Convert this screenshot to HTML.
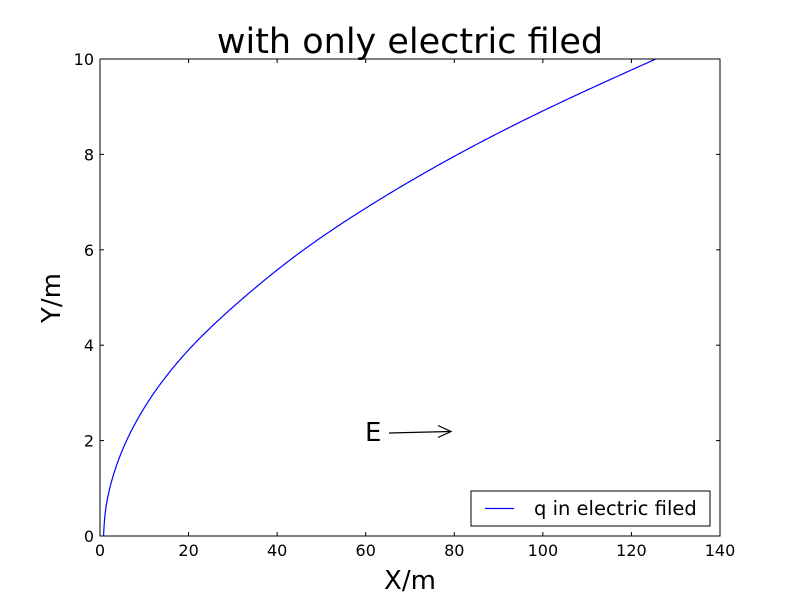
<!DOCTYPE html>
<html><head><meta charset="utf-8"><style>
body{margin:0;background:#fff}
svg{display:block;font-family:"DejaVu Sans","Liberation Sans",sans-serif}
</style></head><body>
<svg id="chart" width="800" height="596" viewBox="0 0 800 596">
<rect x="0" y="0" width="800" height="596" fill="#fff"/>
<text x="410" y="53" font-size="35" text-anchor="middle">with only electric filed</text>
<g id="ticks"></g>
<path id="curve" fill="none" stroke="#0000ff" stroke-width="1.2"/>
<rect x="100" y="59" width="620" height="477" fill="none" stroke="#000" stroke-width="1"/>
<text x="410" y="589" font-size="26" text-anchor="middle">X/m</text>
<text x="60" y="298" font-size="26" text-anchor="middle" transform="rotate(-90 60 298)">Y/m</text>
<text x="365" y="441" font-size="26">E</text>
<g>
<line x1="389" y1="433" x2="450" y2="431.5" stroke="#000" stroke-width="1.2"/>
<polyline points="438,425.5 451,431.5 438,437.5" fill="none" stroke="#000" stroke-width="1.2"/>
</g>
<g>
<rect x="471" y="491" width="239" height="35" fill="#fff" stroke="#000" stroke-width="1"/>
<line x1="485" y1="508.5" x2="514" y2="508.5" stroke="#0000ff" stroke-width="1.2"/>
<text x="534" y="515" font-size="19.5">q in electric filed</text>
</g>
</svg>
<script>
const yVals=[0,0.5,1,2,3,4,5,6,7,8,9,10];
const xVals=[0.8,1.2,2.2,6.0,12.2,21.0,32.5,46.0,62.2,80.8,102.0,125.5];
const xTicks=[0,20,40,60,80,100,120,140];
const yTicks=[0,2,4,6,8,10];
const X0=100,X1=720,Y0=536,Y1=59;
const sx=v=>X0+(v-0)/(140-0)*(X1-X0);
const sy=v=>Y0-(v-0)/(10-0)*(Y0-Y1);
const NS="http://www.w3.org/2000/svg";
const g=document.getElementById('ticks');
function mk(tag,attrs){const e=document.createElementNS(NS,tag);for(const k in attrs)e.setAttribute(k,attrs[k]);g.appendChild(e);return e;}
xTicks.forEach(t=>{
 const x=sx(t);
 const a=mk('line',{x1:x,y1:Y0,x2:x,y2:Y0-4,stroke:'#000'});
 
 
 const b=mk('line',{x1:x,y1:Y1,x2:x,y2:Y1+4,stroke:'#000'});
 
 
 const l=mk('text',{x:x,y:Y0+20,'font-size':16,'text-anchor':'middle'});
 l.textContent=t;
 
 
});
yTicks.forEach(t=>{
 const y=sy(t);
 const a=mk('line',{x1:X0,y1:y,x2:X0+4,y2:y,stroke:'#000'});
 
 
 const b=mk('line',{x1:X1,y1:y,x2:X1-4,y2:y,stroke:'#000'});
 
 
 const l=mk('text',{x:X0-6,y:y+6,'font-size':16,'text-anchor':'end'});
 l.textContent=t;
 
 
});
function spline(xs,ys){
 const n=xs.length,h=[],al=[],l=[1],mu=[0],z=[0],c=new Array(n).fill(0),b=[],d=[];
 for(let i=0;i<n-1;i++)h[i]=xs[i+1]-xs[i];
 for(let i=1;i<n-1;i++)al[i]=3/h[i]*(ys[i+1]-ys[i])-3/h[i-1]*(ys[i]-ys[i-1]);
 for(let i=1;i<n-1;i++){l[i]=2*(xs[i+1]-xs[i-1])-h[i-1]*mu[i-1];mu[i]=h[i]/l[i];z[i]=(al[i]-h[i-1]*z[i-1])/l[i];}
 l[n-1]=1;z[n-1]=0;
 for(let j=n-2;j>=0;j--){c[j]=z[j]-mu[j]*c[j+1];b[j]=(ys[j+1]-ys[j])/h[j]-h[j]*(c[j+1]+2*c[j])/3;d[j]=(c[j+1]-c[j])/(3*h[j]);}
 return t=>{let i=0;while(i<n-2&&t>xs[i+1])i++;const dx=t-xs[i];return ys[i]+b[i]*dx+c[i]*dx*dx+d[i]*dx*dx*dx;};
}
const f=spline(yVals,xVals);
const ymin=yVals[0],ymax=yVals[yVals.length-1];
let d='';
for(let k=0;k<=300;k++){
 const y=ymin+(ymax-ymin)*k/300;
 d+=(k?' L':'M')+sx(f(y)).toFixed(2)+','+sy(y).toFixed(2);
}
document.getElementById('curve').setAttribute('d',d);
</script>
</body></html>
